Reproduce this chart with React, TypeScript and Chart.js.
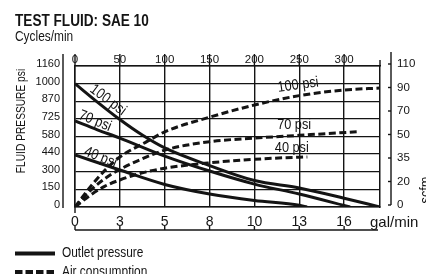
import React, { useEffect, useRef } from 'react';
import { Chart, registerables } from 'chart.js';

Chart.register(...registerables);

// ---------- data ----------
const TITLE = 'TEST FLUID: SAE 10';
const TOP_AXIS_TITLE = 'Cycles/min';
const LEFT_AXIS_TITLE = 'FLUID PRESSURE psi';
const RIGHT_AXIS_TITLE = 'scfm';
const BOTTOM_AXIS_TITLE = 'gal/min';

const CYCLE_TICKS = [0, 50, 100, 150, 200, 250, 300];
const FLOW_LABELS = ['0', '3', '5', '8', '10', '13', '16'];
const PRESSURE_LABELS = ['0', '150', '300', '440', '580', '725', '870', '1000', '1160'];
const AIR_LABELS = ['0', '20', '35', '50', '70', '90', '110'];

const LEGEND_LABELS = ['Outlet pressure', 'Air consumption'];
const CURVE_LABELS = ['100 psi', '70 psi', '40 psi'];

// Outlet pressure (solid), x = cycles/min, y = pressure-axis step index
const OUT100_X = [0, 25, 50, 75, 100, 150, 200, 250, 300, 340];
const OUT100_Y = [7.0, 5.95, 4.96, 4.08, 3.35, 2.35, 1.5, 1.08, 0.5, 0];
const OUT70_X = [0, 25, 50, 100, 150, 200, 250, 306.7];
const OUT70_Y = [4.88, 4.38, 3.91, 2.89, 2.04, 1.3, 0.74, 0];
const OUT40_X = [0, 50, 100, 150, 200, 250, 258.7];
const OUT40_Y = [2.95, 2.1, 1.28, 0.74, 0.37, 0.1, 0];

// Air consumption (dashed), y = air-axis step index
const AIR100_X = [0, 17, 33, 50, 80, 100, 150, 200, 250, 300, 340];
const AIR100_Y = [0, 0.85, 1.55, 2.13, 2.78, 3.2, 3.82, 4.34, 4.74, 4.98, 5.06];
const AIR70_X = [0, 17, 33, 50, 75, 100, 150, 200, 250, 314];
const AIR70_Y = [0, 0.7, 1.2, 1.6, 2.05, 2.42, 2.78, 2.93, 3.05, 3.2];
const AIR40_X = [0, 17, 33, 50, 75, 100, 150, 200, 250, 259];
const AIR40_Y = [0, 0.5, 0.88, 1.15, 1.45, 1.65, 1.88, 2.03, 2.12, 2.13];

// ---------- style ----------
const INK = '#141414';
const SANS = "'Liberation Sans', Arial, sans-serif";
const DASH = [7, 3.5];
const SQUEEZE = 0.85; // horizontal compression imitating a condensed face

function series(label: string, xs: number[], ys: number[], axis: string, dashed: boolean) {
  return {
    label,
    data: xs.map((x, i) => ({ x, y: ys[i] })),
    xAxisID: 'x',
    yAxisID: axis,
    borderColor: INK,
    backgroundColor: INK,
    borderWidth: 3,
    borderDash: dashed ? DASH : [],
    borderCapStyle: 'butt',
    pointRadius: 0,
    cubicInterpolationMode: 'monotone',
    fill: false,
  };
}

function text(ctx: CanvasRenderingContext2D, s: string, x: number, y: number, font: string,
  align: CanvasTextAlign = 'left', baseline: CanvasTextBaseline = 'alphabetic', rot = 0, squeeze = SQUEEZE) {
  ctx.save();
  ctx.translate(x, y);
  if (rot) ctx.rotate((rot * Math.PI) / 180);
  ctx.scale(squeeze, 1);
  ctx.font = font;
  ctx.textAlign = align;
  ctx.textBaseline = baseline;
  ctx.fillText(s, 0, 0);
  ctx.restore();
}

const overlay = {
  id: 'overlay',
  afterDatasetsDraw(chart: any) {
    const { ctx, scales } = chart;
    const sx = scales.x;
    const sy = scales.y;
    const labels = [
      { t: CURVE_LABELS[0], x: 36.8, y: 6.07, r: 37 },
      { t: CURVE_LABELS[1], x: 22.3, y: 4.88, r: 22 },
      { t: CURVE_LABELS[2], x: 28.4, y: 2.81, r: 22 },
      { t: CURVE_LABELS[0], x: 248.7, y: 6.92, r: -8 },
      { t: CURVE_LABELS[1], x: 244.3, y: 4.64, r: 0 },
      { t: CURVE_LABELS[2], x: 241.7, y: 3.36, r: 0 },
    ];
    ctx.save();
    ctx.fillStyle = INK;
    labels.forEach((l) => {
      text(ctx, l.t, sx.getPixelForValue(l.x), sy.getPixelForValue(l.y), `15px ${SANS}`, 'center', 'middle', l.r);
    });
    ctx.restore();
  },
  afterDraw(chart: any) {
    const { ctx, chartArea: a, scales } = chart;
    const line = (x1: number, y1: number, x2: number, y2: number) => {
      ctx.beginPath();
      ctx.moveTo(x1, y1);
      ctx.lineTo(x2, y2);
      ctx.stroke();
    };
    ctx.save();
    ctx.strokeStyle = INK;
    ctx.fillStyle = INK;
    ctx.lineWidth = 1.4;

    // grid lines extending through the top labels
    CYCLE_TICKS.forEach((v) => {
      const px = scales.xTop.getPixelForValue(v);
      line(px, a.top, px, a.top - 12);
    });
    line(a.right, a.top, a.right, a.top - 6);
    line(a.left, a.bottom, a.left, a.bottom + 6);

    // left axis line
    const lx = a.left - 12;
    line(lx, a.top - 12, lx, a.bottom + 1);
    // right axis line with ticks
    const rx = a.right + 11;
    line(rx, a.top - 14, rx, a.bottom - 2);
    AIR_LABELS.forEach((_, i) => {
      const py = scales.y2.getPixelForValue(i) - 2;
      line(rx - 3, py, rx, py);
    });
    // bottom axis line with ticks
    const by = a.bottom + 23;
    line(a.left, by, a.right - 2, by);
    CYCLE_TICKS.forEach((v) => {
      const px = scales.x.getPixelForValue(v);
      line(px, by - 4, px, by);
    });

    // titles
    text(ctx, TITLE, 15, 26, `bold 16px ${SANS}`);
    text(ctx, TOP_AXIS_TITLE, 15, 41, `14px ${SANS}`);
    text(ctx, BOTTOM_AXIS_TITLE, a.right - 10, a.bottom + 16, `15px ${SANS}`, 'left', 'middle', 0, 1);
    text(ctx, LEFT_AXIS_TITLE, 22, 121, `12px ${SANS}`, 'center', 'middle', -90);
    text(ctx, RIGHT_AXIS_TITLE, 430, 190, `15px ${SANS}`, 'center', 'alphabetic', -90);

    // legend
    ctx.lineWidth = 4;
    ctx.lineCap = 'butt';
    line(15, 253.5, 55, 253.5);
    ctx.setLineDash([7.5, 3]);
    line(15, 272, 55, 272);
    ctx.setLineDash([]);
    text(ctx, LEGEND_LABELS[0], 62, 257, `14px ${SANS}`);
    text(ctx, LEGEND_LABELS[1], 62, 276, `14px ${SANS}`);

    ctx.restore();
  },
};

export default function App() {
  const ref = useRef<HTMLCanvasElement | null>(null);

  useEffect(() => {
    if (!ref.current) return;
    const chart = new Chart(ref.current, {
      type: 'line',
      data: {
        datasets: [
          series('Outlet pressure 100 psi', OUT100_X, OUT100_Y, 'y', false),
          series('Outlet pressure 70 psi', OUT70_X, OUT70_Y, 'y', false),
          series('Outlet pressure 40 psi', OUT40_X, OUT40_Y, 'y', false),
          series('Air consumption 100 psi', AIR100_X, AIR100_Y, 'y2', true),
          series('Air consumption 70 psi', AIR70_X, AIR70_Y, 'y2', true),
          series('Air consumption 40 psi', AIR40_X, AIR40_Y, 'y2', true),
        ] as any,
      },
      options: {
        responsive: false,
        devicePixelRatio: 1,
        animation: false,
        layout: { padding: 0 },
        plugins: { legend: { display: false }, tooltip: { enabled: false } },
        scales: {
          x: {
            type: 'linear',
            position: 'bottom',
            min: 0,
            max: 340,
            afterFit: (s: any) => { s.height = 67; },
            ticks: {
              stepSize: 50,
              includeBounds: false,
              autoSkip: false,
              maxRotation: 0,
              padding: 7,
              color: INK,
              font: { family: SANS, size: 14 },
              callback: (v: any) => {
                const i = CYCLE_TICKS.indexOf(Number(v));
                return i >= 0 ? FLOW_LABELS[i] : '';
              },
            },
            grid: { color: INK, lineWidth: 1.4, drawTicks: false },
            border: { display: true, color: INK, width: 1.5 },
          },
          xTop: {
            type: 'linear',
            position: 'top',
            min: 0,
            max: 340,
            afterFit: (s: any) => { s.height = 66; },
            ticks: {
              stepSize: 50,
              includeBounds: false,
              autoSkip: false,
              maxRotation: 0,
              padding: 0,
              color: INK,
              font: { family: SANS, size: 11.5, lineHeight: 1 },
              callback: (v: any) => (CYCLE_TICKS.includes(Number(v)) ? String(v) : ''),
            },
            grid: { display: false, drawTicks: false },
            border: { display: true, color: INK, width: 1.5 },
          },
          y: {
            type: 'linear',
            position: 'left',
            min: 0,
            max: 8,
            afterFit: (s: any) => { s.width = 75; },
            ticks: {
              stepSize: 1,
              autoSkip: false,
              padding: 15,
              labelOffset: -2,
              color: INK,
              font: { family: SANS, size: 11 },
              callback: (v: any) => PRESSURE_LABELS[Number(v)] ?? '',
            },
            grid: { color: INK, lineWidth: 1.3, drawTicks: false },
            border: { display: true, color: INK, width: 1.5 },
          },
          y2: {
            type: 'linear',
            position: 'right',
            min: 0,
            max: 6,
            afterFit: (s: any) => { s.width = 46; },
            ticks: {
              stepSize: 1,
              autoSkip: false,
              padding: 17,
              labelOffset: -2,
              color: INK,
              font: { family: SANS, size: 11.5 },
              callback: (v: any) => AIR_LABELS[Number(v)] ?? '',
            },
            grid: { display: false, drawTicks: false },
            border: { display: true, color: INK, width: 1.5 },
          },
        } as any,
      },
      plugins: [overlay],
    });
    return () => chart.destroy();
  }, []);

  return (
    <div style={{ position: 'absolute', left: 0, top: 0, width: 426, height: 274, background: '#fff' }}>
      <canvas ref={ref} width={426} height={274} style={{ display: 'block' }} />
    </div>
  );
}
